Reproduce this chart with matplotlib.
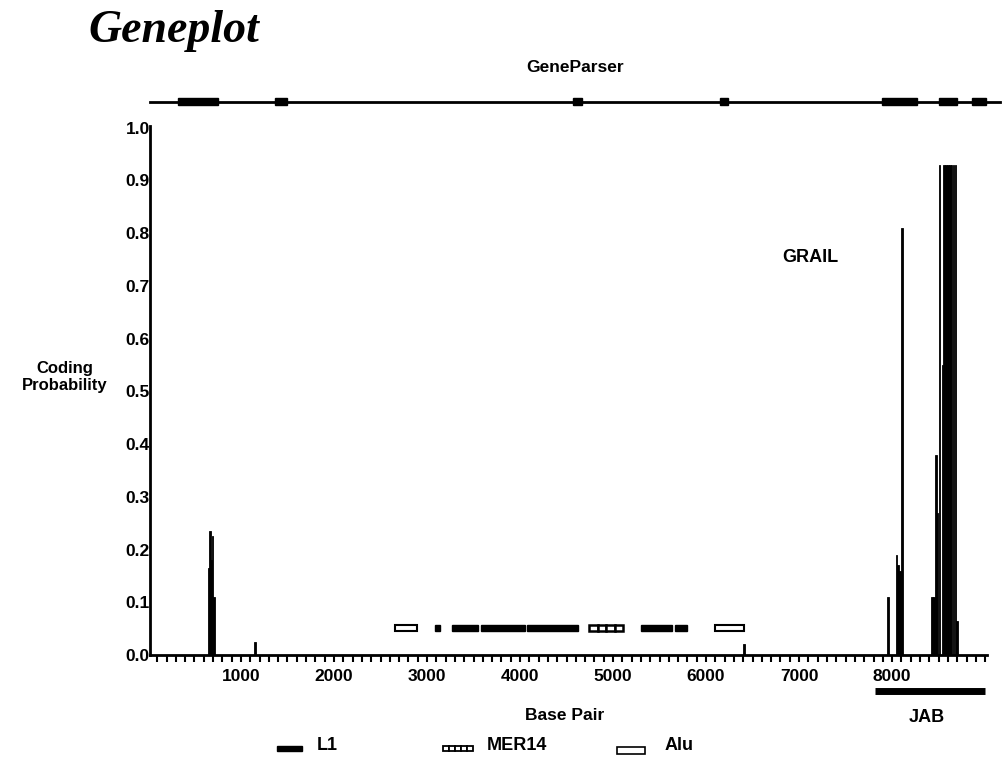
import matplotlib
matplotlib.use("Agg")
import matplotlib.pyplot as plt
from matplotlib.patches import Rectangle

# GRAIL coding probability spikes (base pair, probability)
grail_bp = [650, 665, 680, 695, 710, 1150, 6410,
            7957, 8045, 8065, 8085, 8105,
            8430, 8450, 8470, 8490, 8510, 8540, 8560, 8580, 8600, 8620,
            8640, 8660, 8680, 8700]
grail_p = [0.165, 0.235, 0.18, 0.225, 0.11, 0.025, 0.02,
           0.11, 0.19, 0.17, 0.16, 0.81,
           0.11, 0.11, 0.38, 0.27, 0.93, 0.55, 0.93, 0.93, 0.93, 0.93,
           0.93, 0.93, 0.93, 0.065]

# GeneParser exons
gp_start = [323, 1366, 4570, 6150, 7892, 8505, 8860]
gp_end = [753, 1495, 4667, 6237, 8269, 8699, 9011]

# repeat elements
rep_start = [2656, 3086, 3269, 3581, 4075, 4742, 5301, 5667, 6097]
rep_end = [2892, 3140, 3548, 4054, 4624, 5108, 5634, 5796, 6409]
rep_type = ['Alu', 'L1', 'L1', 'L1', 'L1', 'MER14', 'L1', 'L1', 'Alu']

# JAB region
jab_start, jab_end = 7817, 9000

yticks = [0.0, 0.1, 0.2, 0.3, 0.4, 0.5, 0.6, 0.7, 0.8, 0.9, 1.0]
xticks = [1000, 2000, 3000, 4000, 5000, 6000, 7000, 8000]

plt.rcParams['font.family'] = ['Liberation Sans', 'DejaVu Sans']
plt.rcParams['font.weight'] = 'bold'

fig = plt.figure(figsize=(10.05, 7.61), dpi=100)
ax = fig.add_axes([150/1005, 106/761, 837/1005, 529/761])
ax.set_xlim(22, 9020)
ax.set_ylim(0, 1.003)

for s in ['top', 'right']:
    ax.spines[s].set_visible(False)
ax.spines['left'].set_linewidth(2)
ax.spines['bottom'].set_linewidth(2)

# spikes
ax.bar(grail_bp, grail_p, width=16, color='black', edgecolor='black',
       linewidth=0.6, align='center')

# repeats at p ~ 0.05
h = 0.012
y0 = 0.045
for s, e, t in zip(rep_start, rep_end, rep_type):
    if t == 'L1':
        ax.add_patch(Rectangle((s, y0), e - s, h, facecolor='black',
                               edgecolor='black', lw=1))
    elif t == 'Alu':
        ax.add_patch(Rectangle((s, y0), e - s, h, facecolor='white',
                               edgecolor='black', lw=1.5))
    else:
        n = 4
        w = (e - s) / n
        for k in range(n):
            ax.add_patch(Rectangle((s + k*w, y0), w, h, facecolor='white',
                                   edgecolor='black', lw=1.8))

# GeneParser track
gp_y = 1.049
ax.plot([22, 9161], [gp_y, gp_y], color='black', lw=2, clip_on=False)
for s, e in zip(gp_start, gp_end):
    ax.add_patch(Rectangle((s, gp_y - 0.007), e - s, 0.014, facecolor='black',
                           edgecolor='black', lw=1, clip_on=False))

# JAB bar
ax.plot([jab_start, jab_end], [-0.068, -0.068], color='black', lw=5,
        solid_capstyle='butt', clip_on=False)

ax.set_xticks(xticks)
ax.set_xticklabels([str(v) for v in xticks], fontsize=12.5, fontweight='bold')
ax.set_xticks(range(100, 9001, 100), minor=True)
ax.tick_params(axis='x', which='both', direction='out', length=5, width=1.5, pad=5)
ax.set_yticks(yticks)
ax.set_yticklabels(['%.1f' % v for v in yticks], fontsize=12.5, fontweight='bold')
ax.tick_params(axis='y', length=0, pad=0)

# texts
fig.text(88/1005, 1 - 42/761, 'Geneplot', family='Liberation Serif',
         style='italic', fontweight='bold', fontsize=33, va='baseline')
fig.text(575/1005, 1 - 68/761, 'GeneParser', fontsize=12.5, ha='center', va='center')
fig.text(810/1005, 1 - 258/761, 'GRAIL', fontsize=13, ha='center', va='center')
fig.text(65/1005, 1 - 377/761, 'Coding\nProbability', fontsize=12, ha='center',
         va='center', linespacing=1.1)
fig.text(565/1005, 1 - 715/761, 'Base Pair', fontsize=12.5, ha='center', va='center')
fig.text(927/1005, 1 - 718/761, 'JAB', fontsize=13, ha='center', va='center')

# legend
ly = 1 - 748/761
fig.patches.append(Rectangle((277/1005, ly - 2.5/761), 25/1005, 5/761,
                             transform=fig.transFigure, facecolor='black',
                             edgecolor='black', figure=fig))
fig.text(317/1005, ly + 2/761, 'L1', fontsize=13, va='center')
for k in range(5):
    fig.patches.append(Rectangle(((443 + k*6)/1005, ly - 3/761), 6/1005, 5/761,
                                 transform=fig.transFigure, facecolor='white',
                                 edgecolor='black', lw=1.3, figure=fig))
fig.text(487/1005, ly + 2/761, 'MER14', fontsize=13, va='center')
fig.patches.append(Rectangle((617/1005, ly - 6/761), 28/1005, 7/761,
                             transform=fig.transFigure, facecolor='white',
                             edgecolor='black', lw=1.2, figure=fig))
fig.text(665/1005, ly + 2/761, 'Alu', fontsize=13, va='center')

fig.savefig('out.png', dpi=100)
